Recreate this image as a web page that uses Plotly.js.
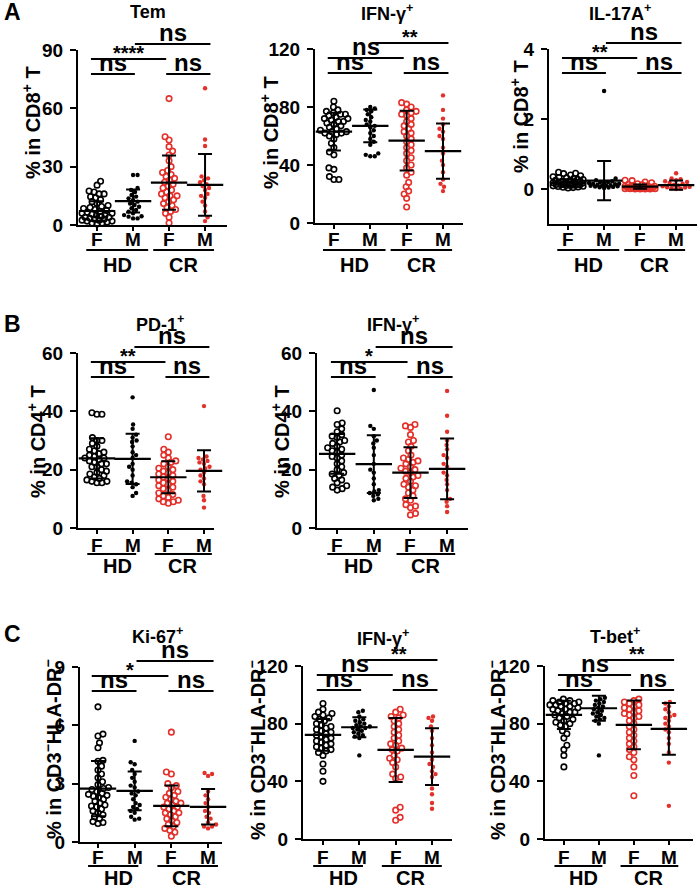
<!DOCTYPE html>
<html>
<head>
<meta charset="utf-8">
<script src="https://cdn.plot.ly/plotly-3.0.1.min.js"></script>
<style>
  body { margin: 0; background: #fff; }
  #chart { width: 700px; height: 892px; }
</style>
</head>
<body>
<div id="chart"></div>
<script>
// values, one array per group (HD F, HD M, CR F, CR M)
const groups = ['F', 'M', 'F', 'M'];
const cohorts = ['HD', 'CR'];

// A - Tem, % in CD8+ T
const temHdF = [22.5, 20.5, 17.5, 17, 16, 16, 14.5, 14, 13, 12, 11, 10, 9.5, 9, 8.5, 8, 7.5, 7, 6.5, 6, 6, 5.5, 5, 5, 4.5, 4, 4, 3.5, 3, 3, 2.5, 2.5, 2, 2, 1.5, 1, 1, 0.5];
const temHdM = [25.7, 25.7, 19, 18, 17, 15.4, 14.6, 13.7, 12.9, 12, 11, 10.3, 9.4, 8.6, 7.7, 6.9, 6, 5.1, 4.5, 4.3, 3.4, 3.4];
const temCrF = [65, 45.4, 43.7, 40.3, 38, 36, 33, 30, 28, 27, 26, 25, 24, 23, 22, 21, 20, 19, 18, 17, 16, 15, 15, 14, 13, 12, 11, 10, 9, 8, 7, 6, 4, 1];
const temCrM = [70.3, 44, 40.6, 25, 24, 23, 22, 21, 20, 19, 18, 16, 15, 14, 12, 10, 7, 4, 2];
const temMean = [7.2, 12.3, 21.8, 20.6];
const temSd = [5.0, 5.9, 13.9, 15.9];
const temSig = ['ns', 'ns', '****', 'ns'];

// A - IFN-g, % in CD8+ T
const ifnCd8HdF = [84, 80, 78, 77, 76, 75, 75, 74, 73, 72, 72, 71, 70, 70, 69, 68, 67, 66, 65, 64, 63, 63, 62, 62, 61, 60, 58, 55, 52, 49, 47, 38, 37, 32, 30, 30];
const ifnCd8HdM = [80, 79, 78, 77, 75, 73, 71, 70, 68, 67, 66, 64, 62, 60, 58, 56, 54, 48, 47, 46, 46];
const ifnCd8CrF = [83, 82, 80, 78, 77, 76, 75, 74, 72, 70, 68, 67, 65, 63, 62, 60, 58, 56, 54, 52, 50, 48, 45, 43, 40, 38, 35, 33, 28, 25, 22, 20, 17, 11];
const ifnCd8CrM = [88, 78, 72, 68, 65, 63, 60, 58, 52, 48, 43, 40, 35, 30, 27, 25, 22];
const ifnCd8Mean = [63, 67, 56.8, 49.6];
const ifnCd8Sd = [13, 11.3, 20.6, 19];
const ifnCd8Sig = ['ns', 'ns', 'ns', '**'];

// A - IL-17A, % in CD8+ T
const il17HdF = [0.48, 0.45, 0.44, 0.4, 0.38, 0.35, 0.33, 0.32, 0.3, 0.28, 0.27, 0.25, 0.24, 0.22, 0.21, 0.2, 0.2, 0.19, 0.18, 0.17, 0.16, 0.15, 0.15, 0.14, 0.13, 0.12, 0.12, 0.11, 0.1, 0.1, 0.09, 0.08, 0.07, 0.06, 0.05, 0.04, 0.03];
const il17HdM = [2.8, 0.3, 0.25, 0.22, 0.2, 0.2, 0.18, 0.17, 0.15, 0.15, 0.14, 0.12, 0.11, 0.1, 0.1, 0.09, 0.08, 0.07, 0.06, 0.05, 0.04, 0.03];
const il17CrF = [0.25, 0.24, 0.2, 0.18, 0.15, 0.13, 0.12, 0.1, 0.09, 0.08, 0.08, 0.07, 0.06, 0.06, 0.05, 0.05, 0.04, 0.04, 0.03, 0.03, 0.02, 0.02, 0.02, 0.01, 0.01, 0.01, 0, 0, 0, 0];
const il17CrM = [0.45, 0.3, 0.28, 0.25, 0.22, 0.2, 0.17, 0.15, 0.12, 0.1, 0.08, 0.06, 0.05, 0.04, 0.02, 0.01, 0];
const il17Mean = [0.18, 0.24, 0.07, 0.11];
const il17Sd = [0.1, 0.56, 0.06, 0.13];
const il17Sig = ['ns', 'ns', '**', 'ns'];

// B - PD-1, % in CD4+ T
const pd1HdF = [39.5, 39, 39, 31, 30, 30, 29, 28, 27, 26.5, 26, 25.5, 25, 24.5, 24, 24, 23.5, 23, 22.5, 22, 22, 21, 21, 20, 19.5, 19, 18.5, 18, 17.5, 17, 16.5, 16, 16, 15.5, 15.5];
const pd1HdM = [44.8, 35.5, 34, 32, 31, 30, 29.5, 28, 26, 25, 24, 22, 21, 20, 18, 16, 15.5, 15, 14, 12, 11];
const pd1CrF = [31.3, 27, 26, 25, 24, 23, 22.5, 22, 21, 20.5, 20, 19.5, 19, 18.5, 18, 17.5, 17, 16.5, 16, 15.5, 15, 14.5, 14, 13.5, 13, 12, 11.5, 11, 10.5, 10, 9.5, 9, 9, 8.5];
const pd1CrM = [41.8, 24.5, 24, 23.5, 23, 22.5, 22, 21, 20.5, 20, 19, 18, 17, 16, 15, 11, 9.5, 7];
const pd1Mean = [23.9, 23.7, 17.4, 19.6];
const pd1Sd = [6.9, 8.6, 5.5, 7.1];
const pd1Sig = ['ns', 'ns', '**', 'ns'];

// B - IFN-g, % in CD4+ T
const ifnCd4HdF = [40.2, 36, 35.5, 34, 33, 32, 31.5, 31, 30, 29.5, 29, 28, 27.5, 27, 26.5, 26, 25, 24.5, 24, 23, 22, 21, 20, 19, 18.5, 18, 17, 16.5, 15.5, 14.5, 14, 13.5, 13];
const ifnCd4HdM = [47.3, 35, 34, 31.5, 30, 29, 27.5, 25, 22, 20, 19, 17, 15, 13, 12.5, 12, 11.5, 11, 10, 9.5];
const ifnCd4CrF = [35.5, 35, 34.5, 32, 30, 29.5, 28, 26.5, 25, 24, 23.5, 23, 22.5, 22, 21, 20.5, 20, 19.5, 19, 18, 17.5, 17, 16, 15, 14.5, 14, 13, 12, 11, 10, 9.5, 8, 7.5, 7, 5, 4.5];
const ifnCd4CrM = [47, 38.5, 33, 30, 28.5, 27, 25, 24, 22, 21, 19, 18, 16.5, 15, 13, 10, 9, 7.5, 5.5];
const ifnCd4Mean = [25.4, 21.9, 19, 20.3];
const ifnCd4Sd = [6.8, 9.9, 8.7, 10.4];
const ifnCd4Sig = ['ns', 'ns', '*', 'ns'];

// C - Ki-67, % in CD3-HLA-DR-
const ki67HdF = [6.95, 5.55, 5.45, 5.1, 4.85, 4.2, 4.15, 3.9, 3.7, 3.5, 3.3, 3.1, 2.95, 2.8, 2.75, 2.7, 2.6, 2.5, 2.45, 2.4, 2.35, 2.3, 2.2, 2.1, 2.0, 1.9, 1.85, 1.8, 1.7, 1.6, 1.5, 1.4, 1.3, 1.2, 1.05, 1.0, 0.95];
const ki67HdM = [5.2, 4.1, 4.0, 3.7, 3.5, 3.3, 3.1, 2.9, 2.8, 2.6, 2.5, 2.4, 2.2, 2.0, 1.9, 1.8, 1.7, 1.6, 1.5, 1.3, 1.2, 1.15];
const ki67CrF = [5.65, 3.6, 3.5, 3.0, 2.9, 2.8, 2.6, 2.5, 2.4, 2.3, 2.2, 2.1, 2.0, 2.0, 1.9, 1.8, 1.8, 1.7, 1.6, 1.5, 1.5, 1.4, 1.3, 1.2, 1.1, 1.0, 0.9, 0.8, 0.7, 0.6, 0.5, 0.3];
const ki67CrM = [3.55, 3.5, 3.4, 2.6, 2.4, 2.2, 2.0, 1.8, 1.6, 1.5, 1.3, 1.2, 1.0, 0.9, 0.8, 0.8, 0.7];
const ki67Mean = [2.75, 2.63, 1.86, 1.81];
const ki67Sd = [1.42, 1.0, 1.05, 0.91];
const ki67Sig = ['ns', 'ns', '*', 'ns'];

// C - IFN-g, % in CD3-HLA-DR-
const ifnNkHdF = [94, 90, 88, 87, 86, 85, 84, 83, 82, 80, 79, 78, 77, 76, 75, 74, 73, 72, 71, 70, 69, 68, 67, 66, 65, 64, 63, 62, 61, 60, 58, 52, 47, 40];
const ifnNkHdM = [89, 88, 85, 83, 82, 81, 80, 79, 78, 78, 77, 77, 76, 75, 74, 73, 72, 71, 70, 58];
const ifnNkCrF = [90, 88, 86, 85, 84, 82, 80, 78, 76, 74, 72, 70, 68, 66, 65, 63, 62, 61, 58, 56, 55, 53, 50, 45, 43, 42, 22, 20, 15, 13];
const ifnNkCrM = [85, 84, 82, 78, 75, 70, 65, 60, 55, 52, 50, 47, 45, 43, 35, 31, 25, 21];
const ifnNkMean = [72.2, 77.5, 61.8, 57.2];
const ifnNkSd = [11, 7, 22.2, 19.7];
const ifnNkSig = ['ns', 'ns', 'ns', '**'];

// C - T-bet, % in CD3-HLA-DR-
const tbetHdF = [97, 96, 96, 95, 95, 94, 94, 93, 93, 92, 92, 91, 90, 90, 89, 88, 88, 87, 86, 85, 84, 83, 82, 81, 80, 79, 78, 75, 73, 70, 65, 62, 58, 50];
const tbetHdM = [98, 97, 96, 95, 94, 93, 92, 91, 90, 89, 88, 87, 86, 85, 84, 83, 82, 80, 58];
const tbetCrF = [97, 96, 95, 94, 93, 92, 91, 90, 89, 88, 87, 86, 85, 84, 82, 80, 78, 76, 74, 72, 70, 68, 66, 64, 62, 60, 57, 55, 50, 44, 30];
const tbetCrM = [95, 94, 92, 90, 88, 86, 85, 84, 82, 80, 78, 76, 74, 70, 66, 60, 53, 23];
const tbetMean = [86.1, 90.7, 79.2, 76.4];
const tbetSd = [9.8, 8.7, 16.9, 17.9];
const tbetSig = ['ns', 'ns', 'ns', '**'];

const W = 700, H = 892;
const FONT = 'Liberation Sans, Arial, sans-serif';
const RED = '#e3302a';
const CD8 = '% in CD8<sup>+</sup> T';
const CD4 = '% in CD4<sup>+</sup> T';
const NK = '% in CD3<sup>\u2212</sup>HLA-DR<sup>\u2212</sup>';

// box = [axis left, axis right, axis top, axis bottom] in px
const panels = [
  {letter: 'A', title: 'Tem', yt: CD8, d: [temHdF, temHdM, temCrF, temCrM], mean: temMean, sd: temSd, sig: temSig,
   yr: [0, 90], tv: [0, 30, 60, 90], box: [78, 227, 50, 225], xr: [-0.53, 3.61], tx: 148, ty: 12, ytx: 31, yty: 122, row: 0},
  {title: 'IFN-\u03b3<sup>+</sup>', yt: CD8, d: [ifnCd8HdF, ifnCd8HdM, ifnCd8CrF, ifnCd8CrM], mean: ifnCd8Mean, sd: ifnCd8Sd, sig: ifnCd8Sig,
   yr: [0, 120], tv: [0, 40, 80, 120], box: [315, 463, 49, 223], xr: [-0.52, 3.55], tx: 387, ty: 12, ytx: 269, yty: 133, row: 0},
  {title: 'IL-17A<sup>+</sup>', yt: CD8, d: [il17HdF, il17HdM, il17CrF, il17CrM], mean: il17Mean, sd: il17Sd, sig: il17Sig,
   yr: [-1, 4], tv: [0, 2, 4], box: [549, 697, 49, 224], xr: [-0.53, 3.58], tx: 620, ty: 12, ytx: 520, yty: 117, row: 0},
  {letter: 'B', title: 'PD-1<sup>+</sup>', yt: CD4, d: [pd1HdF, pd1HdM, pd1CrF, pd1CrM], mean: pd1Mean, sd: pd1Sd, sig: pd1Sig,
   yr: [0, 60], tv: [0, 20, 40, 60], box: [78, 214, 353, 528], xr: [-0.53, 3.28], tx: 160, ty: 323, ytx: 36, yty: 442, row: 1},
  {title: 'IFN-\u03b3<sup>+</sup>', yt: CD4, d: [ifnCd4HdF, ifnCd4HdM, ifnCd4CrF, ifnCd4CrM], mean: ifnCd4Mean, sd: ifnCd4Sd, sig: ifnCd4Sig,
   yr: [0, 60], tv: [0, 20, 40, 60], box: [317, 468, 353, 528], xr: [-0.55, 3.57], tx: 393, ty: 323, ytx: 280, yty: 442, row: 1},
  {letter: 'C', title: 'Ki-67<sup>+</sup>', yt: NK, d: [ki67HdF, ki67HdM, ki67CrF, ki67CrM], mean: ki67Mean, sd: ki67Sd, sig: ki67Sig,
   yr: [0, 9], tv: [0, 3, 6, 9], box: [80, 222, 667, 842], xr: [-0.49, 3.38], tx: 157, ty: 635, ytx: 52, yty: 749, row: 2},
  {title: 'IFN-\u03b3<sup>+</sup>', yt: NK, d: [ifnNkHdF, ifnNkHdM, ifnNkCrF, ifnNkCrM], mean: ifnNkMean, sd: ifnNkSd, sig: ifnNkSig,
   yr: [0, 120], tv: [0, 40, 80, 120], box: [303, 452, 666, 839], xr: [-0.55, 3.55], tx: 383, ty: 637, ytx: 256, yty: 750, row: 2},
  {title: 'T-bet<sup>+</sup>', yt: NK, d: [tbetHdF, tbetHdM, tbetCrF, tbetCrM], mean: tbetMean, sd: tbetSd, sig: tbetSig,
   yr: [0, 120], tv: [0, 40, 80, 120], box: [545, 693, 666, 839], xr: [-0.54, 3.69], tx: 615, ty: 635, ytx: 496, yty: 750, row: 2}
];

// per row: F/M label y, underline y, HD/CR label y, underline extents in category units
const rows = [
  {tick: 239, line: 250, lab: 265, hd: [-0.3, 1.42], cr: [1.56, 3.25]},
  {tick: 545, line: 554, lab: 566, hd: [-0.27, 1.1], cr: [1.62, 3.22]},
  {tick: 857, line: 866, lab: 878, hd: [-0.27, 1.1], cr: [1.62, 3.27]}
];
const letterY = [12, 324, 634];

// spread points sideways so they do not sit on each other (beeswarm)
function swarm(vals, pxY, pxX, dmin, maxW) {
  const pts = [];
  const off = vals.map(() => 0);
  const order = vals.map((v, i) => i).sort((a, b) => vals[a] - vals[b]);
  order.forEach((i, n) => {
    const y = vals[i] * pxY;
    let best = 0, bestD = -1, done = false;
    for (let k = 0; k <= maxW * 2 && !done; k++) {
      const s = n % 2 ? 1 : -1;
      const cands = k === 0 ? [0] : [s * k * 0.5, -s * k * 0.5];
      for (const x of cands) {
        let m = Infinity;
        pts.forEach(p => { m = Math.min(m, Math.hypot(x - p[0], y - p[1])); });
        if (m >= dmin) { best = x; done = true; break; }
        if (m > bestD) { bestD = m; best = x; }
      }
    }
    pts.push([best, y]);
    off[i] = best / pxX;
  });
  return off;
}

const traces = [];
const shapes = [];
const annotations = [];
const layout = {
  width: W, height: H, margin: {l: 0, r: 0, t: 0, b: 0},
  paper_bgcolor: '#fff', plot_bgcolor: 'rgba(0,0,0,0)',
  showlegend: false, font: {family: FONT, color: '#000'}
};

const bold = (size) => ({family: FONT, size: size, color: '#000', weight: 'bold'});
// bracket ends (category units): HD pair, CR pair, F vs F, M vs M
const bx = [-0.17, 1.05, 1.92, 3.15];
const pairs = [[bx[0], bx[1]], [bx[2], bx[3]], [bx[0], bx[2]], [bx[1], bx[3]]];

panels.forEach((p, i) => {
  const s = i === 0 ? '' : String(i + 1);
  const [L, R, T, B] = p.box;
  const ph = B - T;
  const pxY = ph / (p.yr[1] - p.yr[0]);
  const pxX = (R - L) / (p.xr[1] - p.xr[0]);
  const r = rows[p.row];

  layout['xaxis' + s] = {
    domain: [L / W, R / W], range: p.xr, anchor: 'y' + s,
    showline: true, linewidth: 2, linecolor: '#000',
    ticks: 'outside', ticklen: 4, tickwidth: 2, tickcolor: '#000',
    tickvals: [0, 1, 2, 3], showticklabels: false,
    showgrid: false, zeroline: false, fixedrange: true
  };
  layout['yaxis' + s] = {
    domain: [1 - B / H, 1 - T / H], range: p.yr, anchor: 'x' + s,
    showline: true, linewidth: 2, linecolor: '#000',
    ticks: 'outside', ticklen: 6, tickwidth: 2, tickcolor: '#000',
    tickvals: p.tv, tickfont: bold(19), ticklabelstandoff: 3,
    showgrid: false, zeroline: false, fixedrange: true
  };

  p.d.forEach((vals, g) => {
    const col = g < 2 ? '#000' : RED;
    const open = g % 2 === 0;
    const off = swarm(vals, pxY, pxX, open ? 5 : 4.4, 15);
    traces.push({
      type: 'scatter', mode: 'markers', xaxis: 'x' + s, yaxis: 'y' + s,
      x: vals.map((v, k) => g + off[k]), y: vals, cliponaxis: false, hoverinfo: 'skip',
      marker: open ? {symbol: 'circle-open', size: 5.5, color: col, line: {width: 1.6, color: col}}
                   : {symbol: 'circle', size: 4.4, color: col}
    });
    // F / M category label under each group
    annotations.push({xref: 'x' + s, yref: 'paper', x: g, y: 1 - r.tick / H, text: groups[g],
      showarrow: false, xanchor: 'center', yanchor: 'middle', font: bold(19)});
  });

  // mean line + SD bars
  traces.push({
    type: 'scatter', mode: 'markers', xaxis: 'x' + s, yaxis: 'y' + s,
    x: [0, 1, 2, 3], y: p.mean, cliponaxis: false, hoverinfo: 'skip',
    marker: {symbol: 'line-ew', size: 26, color: '#000', line: {width: 2.2, color: '#000'}},
    error_y: {type: 'data', array: p.sd, visible: true, thickness: 2, width: 7, color: '#000'}
  });

  // significance brackets
  const lv = [1 - 24 / ph, 1 - 24 / ph, 1 - 9 / ph, 1 + 6 / ph];
  pairs.forEach((pr, k) => {
    shapes.push({type: 'line', xref: 'x' + s, yref: 'y' + s + ' domain',
      x0: pr[0], x1: pr[1], y0: lv[k], y1: lv[k], line: {width: 1.8, color: '#000'}});
    const isNs = p.sig[k] === 'ns';
    annotations.push({xref: 'x' + s, yref: 'y' + s + ' domain', x: (pr[0] + pr[1]) / 2, y: lv[k],
      text: p.sig[k], showarrow: false, xanchor: 'center', yanchor: 'bottom',
      yshift: isNs ? -4 : -7, font: bold(isNs ? 24 : 20)});
  });

  // group underlines and HD / CR labels
  [r.hd, r.cr].forEach((ext, k) => {
    shapes.push({type: 'line', xref: 'x' + s, yref: 'paper', x0: ext[0], x1: ext[1],
      y0: 1 - r.line / H, y1: 1 - r.line / H, line: {width: 1.8, color: '#000'}});
    annotations.push({xref: 'x' + s, yref: 'paper', x: k === 0 ? 0.57 : 2.41, y: 1 - r.lab / H,
      text: cohorts[k], showarrow: false, xanchor: 'center', yanchor: 'middle', font: bold(20)});
  });

  annotations.push({xref: 'paper', yref: 'paper', x: p.tx / W, y: 1 - p.ty / H, text: p.title,
    showarrow: false, xanchor: 'center', yanchor: 'middle', font: bold(18)});
  annotations.push({xref: 'paper', yref: 'paper', x: p.ytx / W, y: 1 - p.yty / H, text: p.yt,
    textangle: -90, showarrow: false, xanchor: 'center', yanchor: 'middle', font: bold(20)});
  if (p.letter) {
    annotations.push({xref: 'paper', yref: 'paper', x: 12 / W, y: 1 - letterY[p.row] / H, text: p.letter,
      showarrow: false, xanchor: 'center', yanchor: 'middle', font: bold(23)});
  }
});

layout.shapes = shapes;
layout.annotations = annotations;

Plotly.newPlot('chart', traces, layout, {displayModeBar: false, staticPlot: true});
</script>
</body>
</html>
